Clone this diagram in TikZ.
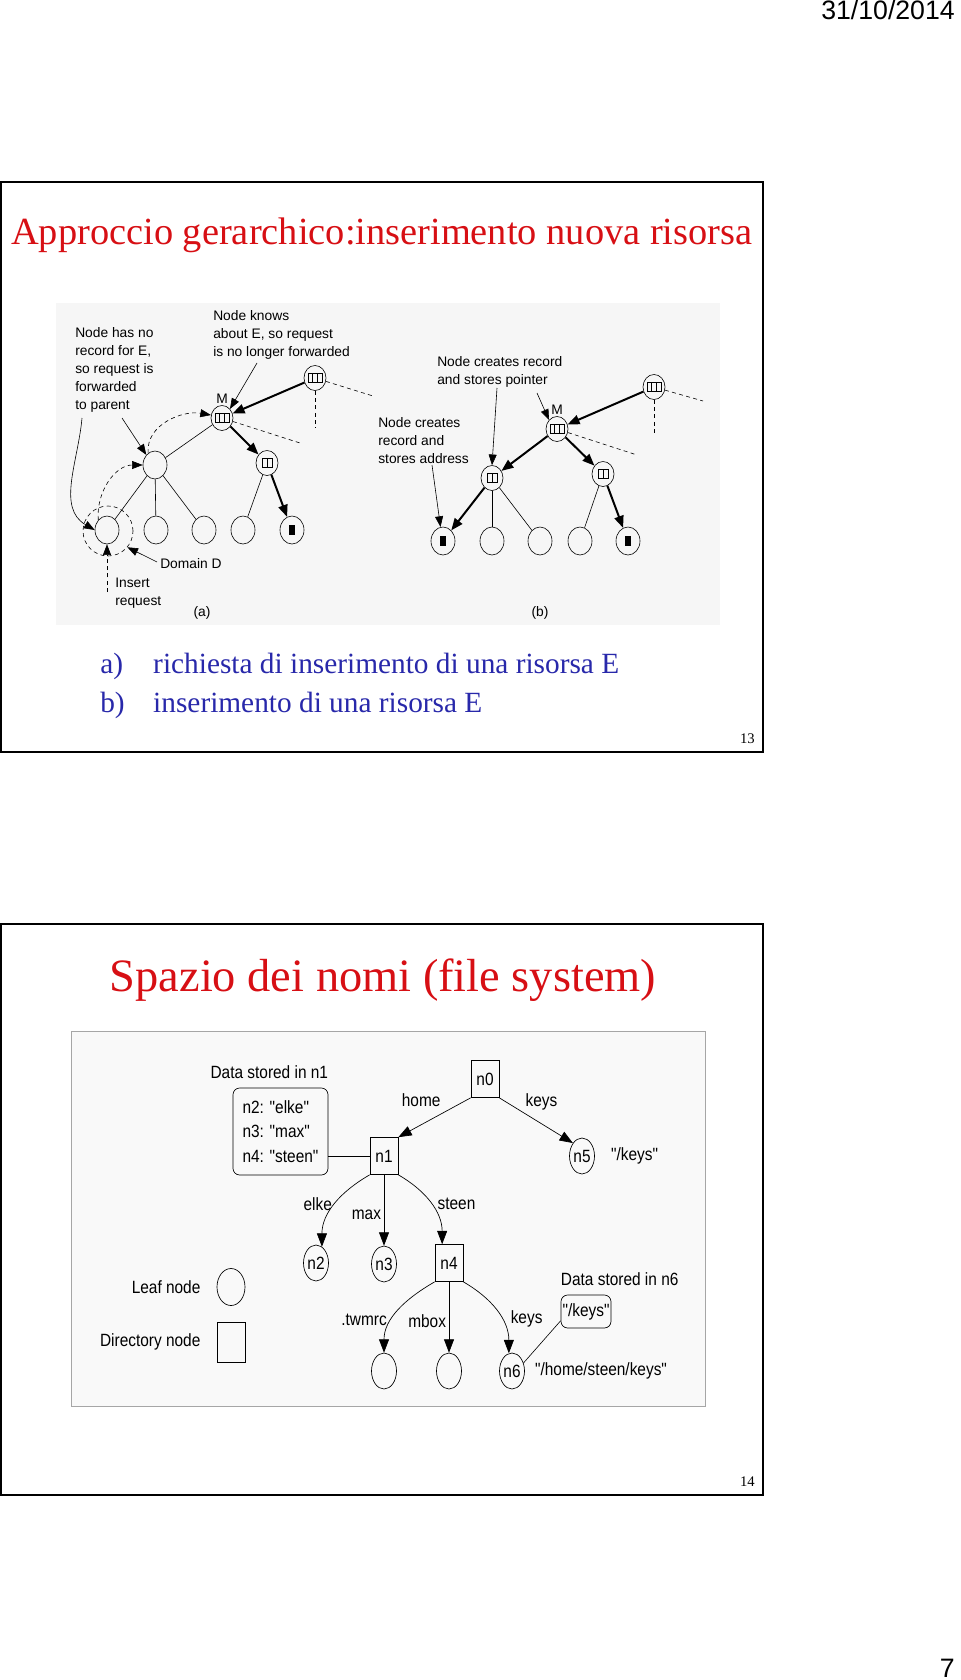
\documentclass[tikz,border=0pt]{standalone}
\usepackage{fontspec}
\setmainfont{Liberation Serif}
\newfontfamily\headfont{Liberation Sans}
\newfontfamily\sketchfont{Liberation Sans}[Ligatures=TeXOff]
\newfontfamily\treefont{Liberation Sans}[FakeStretch=0.87,Ligatures=TeXOff]
\usetikzlibrary{arrows.meta,shapes.geometric,positioning}
\definecolor{slidered}{RGB}{215,15,20}
\definecolor{slideblue}{RGB}{40,40,170}
\tikzstyle{note} = [font=\sketchfont\fontsize{10.35pt}{13.5pt}\selectfont, align=left, anchor=north west, inner sep=0pt]
\tikzstyle{caption} = [font=\sketchfont\fontsize{10.35pt}{13.5pt}\selectfont, inner sep=0pt]
\tikzstyle{treenode} = [ellipse, draw, line width=0.45pt, minimum width=18pt, minimum height=21pt, inner sep=0pt]
\tikzstyle{recnode} = [treenode, minimum width=16.5pt, minimum height=18.75pt]
\tikzstyle{rec-3} = [recnode, path picture={
    \draw [line width=0.4pt] ([xshift=-5.25pt,yshift=-3.4pt]path picture bounding box.center) rectangle ([xshift=5.25pt,yshift=3.4pt]path picture bounding box.center);
    \foreach \dx in {-1.75pt,1.75pt} \draw [line width=0.4pt] ([xshift=\dx,yshift=-3.4pt]path picture bounding box.center) -- ([xshift=\dx,yshift=3.4pt]path picture bounding box.center);}]
\tikzstyle{rec-2} = [recnode, path picture={
    \draw [line width=0.4pt] ([xshift=-3.75pt,yshift=-3.4pt]path picture bounding box.center) rectangle ([xshift=3.75pt,yshift=3.4pt]path picture bounding box.center);
    \draw [line width=0.4pt] ([yshift=-3.4pt]path picture bounding box.center) -- ([yshift=3.4pt]path picture bounding box.center);}]
\tikzstyle{stored} = [treenode, path picture={
    \fill ([xshift=-2.25pt,yshift=-3.75pt]path picture bounding box.center) rectangle ([xshift=2.25pt,yshift=3.75pt]path picture bounding box.center);}]
\tikzstyle{thick-arrow} = [line width=1.5pt, -{Triangle[length=9pt,width=7pt]}]
\tikzstyle{thin-line} = [line width=0.45pt]
\tikzstyle{dash-line} = [line width=0.45pt, dash pattern=on 3pt off 2.5pt]
\tikzstyle{dash-ptr} = [dash-line, -{Triangle[length=8pt,width=6pt]}]
\tikzstyle{pointer} = [line width=0.45pt, -{Triangle[length=8pt,width=6pt]}]
\tikzstyle{lbl} = [font=\treefont\fontsize{13.3pt}{18.4pt}\selectfont, inner sep=0pt]
\tikzstyle{dirnode} = [rectangle, draw, line width=0.5pt, minimum width=21pt, minimum height=27.75pt, inner sep=0pt, font=\treefont\fontsize{13.3pt}{16pt}\selectfont]
\tikzstyle{leafnode} = [ellipse, draw, line width=0.5pt, minimum width=18.75pt, minimum height=27pt, inner sep=0pt, font=\treefont\fontsize{13.3pt}{16pt}\selectfont]
\tikzstyle{databox} = [rectangle, rounded corners=5pt, draw, line width=0.5pt, align=left, inner sep=0pt, font=\treefont\fontsize{13.3pt}{18.4pt}\selectfont]
\tikzstyle{edge} = [line width=0.5pt, -{Triangle[length=10pt,width=7.5pt]}]

\begin{document}
\begin{tikzpicture}[x=0.75pt, y=0.75pt, node distance=81pt]
        \useasboundingbox (0,0) rectangle (960,-1680);
        \node (date) [anchor=base east, inner sep=0pt, font=\headfont\fontsize{20pt}{24pt}\selectfont] at (955,-20) {31/10/2014};
        \node (page-no) [anchor=base east, inner sep=0pt, font=\headfont\fontsize{20pt}{24pt}\selectfont] at (955,-1677) {7};

        \draw [line width=1.5pt] (1,-182) rectangle (763,-752);
        \node (title-1) [anchor=base west, inner sep=0pt, text=slidered, font=\fontsize{28.8pt}{34pt}\selectfont] at (11,-244) {Approccio gerarchico:inserimento nuova risorsa};
        \fill [gray!7] (56,-303) rectangle (720,-625);
        \node (item-a) [anchor=base west, inner sep=0pt, text=slideblue, font=\fontsize{22pt}{26pt}\selectfont] at (100,-673) {\makebox[39.75pt][l]{a)}richiesta di inserimento di una risorsa E};
        \node (item-b) [anchor=base west, inner sep=0pt, text=slideblue, font=\fontsize{22pt}{26pt}\selectfont] at (100,-712) {\makebox[39.75pt][l]{b)}inserimento di una risorsa E};
        \node (slide-no-1) [anchor=base east, inner sep=0pt, font=\fontsize{11pt}{13pt}\selectfont] at (755,-743) {13};

        \node (top-a) [rec-3] at (315,-378) {};
        \node (M-a) [rec-3, label={[caption, label distance=1pt]above:M}] at (222,-418) {};
        \node (mid-a) [treenode] at (155,-465) {};
        \node (right-a) [rec-2] at (267,-463) {};
        \foreach \i/\x in {1/107,2/156,3/204,4/243}
            \node (leaf-a-\i) [treenode] at (\x,-530) {};
        \node (leaf-a-5) [stored] at (292,-530) {};
        \node (domain-a) [circle, draw, dash-line, minimum size=37.5pt] at (108,-531) {};
        \coordinate (top-a-down) at (315,-428);
        \coordinate (top-a-side) at (373,-396);
        \coordinate (M-a-side) at (300,-443);
        \coordinate (insert-a) at (107,-592);
        \draw [thick-arrow] (top-a) -- (M-a);
        \draw [thin-line] (M-a) -- (mid-a);
        \draw [thick-arrow] (M-a) -- (right-a);
        \foreach \i in {1,2,3}
            \draw [thin-line] (mid-a) -- (leaf-a-\i);
        \draw [thin-line] (right-a) -- (leaf-a-4);
        \draw [thick-arrow] (right-a) -- (leaf-a-5);
        \draw [dash-line] (top-a) -- (top-a-down);
        \draw [dash-line] (top-a) -- (top-a-side);
        \draw [dash-line] (M-a) -- (M-a-side);
        \draw [dash-ptr] (leaf-a-1.north west) to[out=95,in=180] (mid-a.west);
        \draw [dash-ptr] (mid-a.120) to[out=95,in=170] (M-a.165);
        \draw [dash-ptr] (insert-a) -- (leaf-a-1.south);
        \node (note-a-left) [note] at (75,-327) {Node has no\\record for E,\\so request is\\forwarded\\to parent};
        \node (note-a-top) [note] at (213,-310) {Node knows\\about E, so request\\is no longer forwarded};
        \node (note-a-domain) [note] at (160,-558) {Domain D};
        \node (note-a-insert) [note] at (115,-578) {Insert\\request};
        \node (caption-a) [caption] at (202,-613) {(a)};
        \coordinate (note-a-left-1) at (82,-418);
        \coordinate (note-a-left-2) at (122,-418);
        \coordinate (note-a-top-1) at (257,-363);
        \coordinate (note-a-domain-1) at (157,-562);
        \draw [pointer] (note-a-left-1) to[out=-95,in=150] (leaf-a-1.west);
        \draw [pointer] (note-a-left-2) -- (mid-a.north west);
        \draw [pointer] (note-a-top-1) -- (M-a.north east);
        \draw [pointer] (note-a-domain-1) -- (domain-a.-40);

        \node (top-b) [rec-3] at (654,-387) {};
        \node (M-b) [rec-3, label={[caption, label distance=1pt]above:M}] at (557,-429) {};
        \node (left-b) [rec-2] at (492,-478) {};
        \node (right-b) [rec-2] at (603,-474) {};
        \node (leaf-b-1) [stored] at (443,-541) {};
        \foreach \i/\x in {2/492,3/540,4/580}
            \node (leaf-b-\i) [treenode] at (\x,-541) {};
        \node (leaf-b-5) [stored] at (628,-541) {};
        \coordinate (top-b-down) at (654,-433);
        \coordinate (top-b-side) at (703,-401);
        \coordinate (M-b-side) at (637,-455);
        \draw [thick-arrow] (top-b) -- (M-b);
        \draw [thick-arrow] (M-b) -- (left-b);
        \draw [thick-arrow] (M-b) -- (right-b);
        \draw [thick-arrow] (left-b) -- (leaf-b-1);
        \draw [thin-line] (left-b) -- (leaf-b-2);
        \draw [thin-line] (left-b) -- (leaf-b-3);
        \draw [thin-line] (right-b) -- (leaf-b-4);
        \draw [thick-arrow] (right-b) -- (leaf-b-5);
        \draw [dash-line] (top-b) -- (top-b-down);
        \draw [dash-line] (top-b) -- (top-b-side);
        \draw [dash-line] (M-b) -- (M-b-side);
        \node (note-b-top) [note] at (437,-356) {Node creates record\\and stores pointer};
        \node (note-b-left) [note] at (378,-417) {Node creates\\record and\\stores address};
        \node (caption-b) [caption] at (540,-613) {(b)};
        \coordinate (note-b-top-1) at (497,-388);
        \coordinate (note-b-top-2) at (537,-393);
        \coordinate (note-b-left-1) at (432,-465);
        \draw [pointer] (note-b-top-1) -- (left-b.north);
        \draw [pointer] (note-b-top-2) -- (M-b.north west);
        \draw [pointer] (note-b-left-1) -- (leaf-b-1.100);

        \draw [line width=1.5pt] (1,-924) rectangle (763,-1495);
        \node (title-2) [anchor=base, inner sep=0pt, text=slidered, font=\fontsize{34.8pt}{40pt}\selectfont] at (383,-991) {Spazio dei nomi (file system)};
        \filldraw [fill=gray!5, draw=gray!70, line width=0.75pt] (71,-1031) rectangle (705,-1406);
        \node (slide-no-2) [anchor=base east, inner sep=0pt, font=\fontsize{11pt}{13pt}\selectfont] at (755,-1486) {14};

        \node (n0) [dirnode] at (485,-1079) {n0};
        \node (n1) [dirnode] at (384,-1156) {n1};
        \node (n5) [leafnode, label={[lbl, label distance=12pt]right:"/keys"}] at (582,-1156) {n5};
        \node (n2) [leafnode] at (316,-1263) {n2};
        \node (n3) [leafnode, below of=n1] {n3};
        \node (n4) [dirnode] at (449,-1263) {n4};
        \node (twmrc) [leafnode, below of=n4, xshift=-48.75pt] {};
        \node (mbox) [leafnode, below of=n4] {};
        \node (n6) [leafnode, below of=n4, xshift=47.25pt, label={[lbl, label distance=7.5pt]right:"/home/steen/keys"}] {n6};
        \node (n1-data) [databox, minimum width=71.25pt, minimum height=65.25pt] at (280.5,-1131.5) {n2: "elke"\\n3: "max"\\n4: "steen"};
        \node (n1-data-title) [lbl, anchor=south east, yshift=6.75pt] at (n1-data.north east) {Data stored in n1};
        \node (n6-data) [databox, minimum width=37.5pt, minimum height=24.75pt] at (586,-1311.5) {"/keys"};
        \node (n6-data-title) [lbl, anchor=south west, yshift=6.75pt] at (n6-data.north west) {Data stored in n6};
        \node (legend-leaf) [leafnode, minimum width=21pt, minimum height=27.75pt, label={[lbl, label distance=12pt]left:Leaf node}] at (231,-1287) {};
        \node (legend-dir) [dirnode, minimum height=30pt, label={[lbl, label distance=12pt]left:Directory node}] at (231,-1342) {};
        \draw [edge] (n0.south west) -- node[lbl, xshift=-10pt, yshift=13pt] {home} (n1.north east);
        \draw [edge] (n0.south east) -- node[lbl, xshift=4pt, yshift=14pt] {keys} (n5.north west);
        \draw [edge] (n1.south west) to[out=210,in=90] node[lbl, pos=0.5, anchor=east, xshift=-2pt] {elke} (n2.70);
        \draw [edge] (n1) -- node[lbl, pos=0.57, anchor=east, xshift=-2pt] {max} (n3);
        \draw [edge] (n1.south east) to[out=-30,in=90] node[lbl, pos=0.5, anchor=west, xshift=5pt] {steen} (n4.110);
        \draw [edge] (n4.south west) to[out=210,in=90] node[lbl, pos=0.62, anchor=east, xshift=-4pt] {.twmrc} (twmrc.north);
        \draw [edge] (n4) -- node[lbl, pos=0.55, anchor=east, xshift=-2pt] {mbox} (mbox);
        \draw [edge] (n4.south east) to[out=-30,in=90] node[lbl, pos=0.6, anchor=west, xshift=7pt] {keys} (n6.100);
        \draw [thin-line] (n1.west) -- (n1.west -| n1-data.east);
        \draw [thin-line] (n6-data.200) -- (n6.35);
    \end{tikzpicture}
\end{document}
